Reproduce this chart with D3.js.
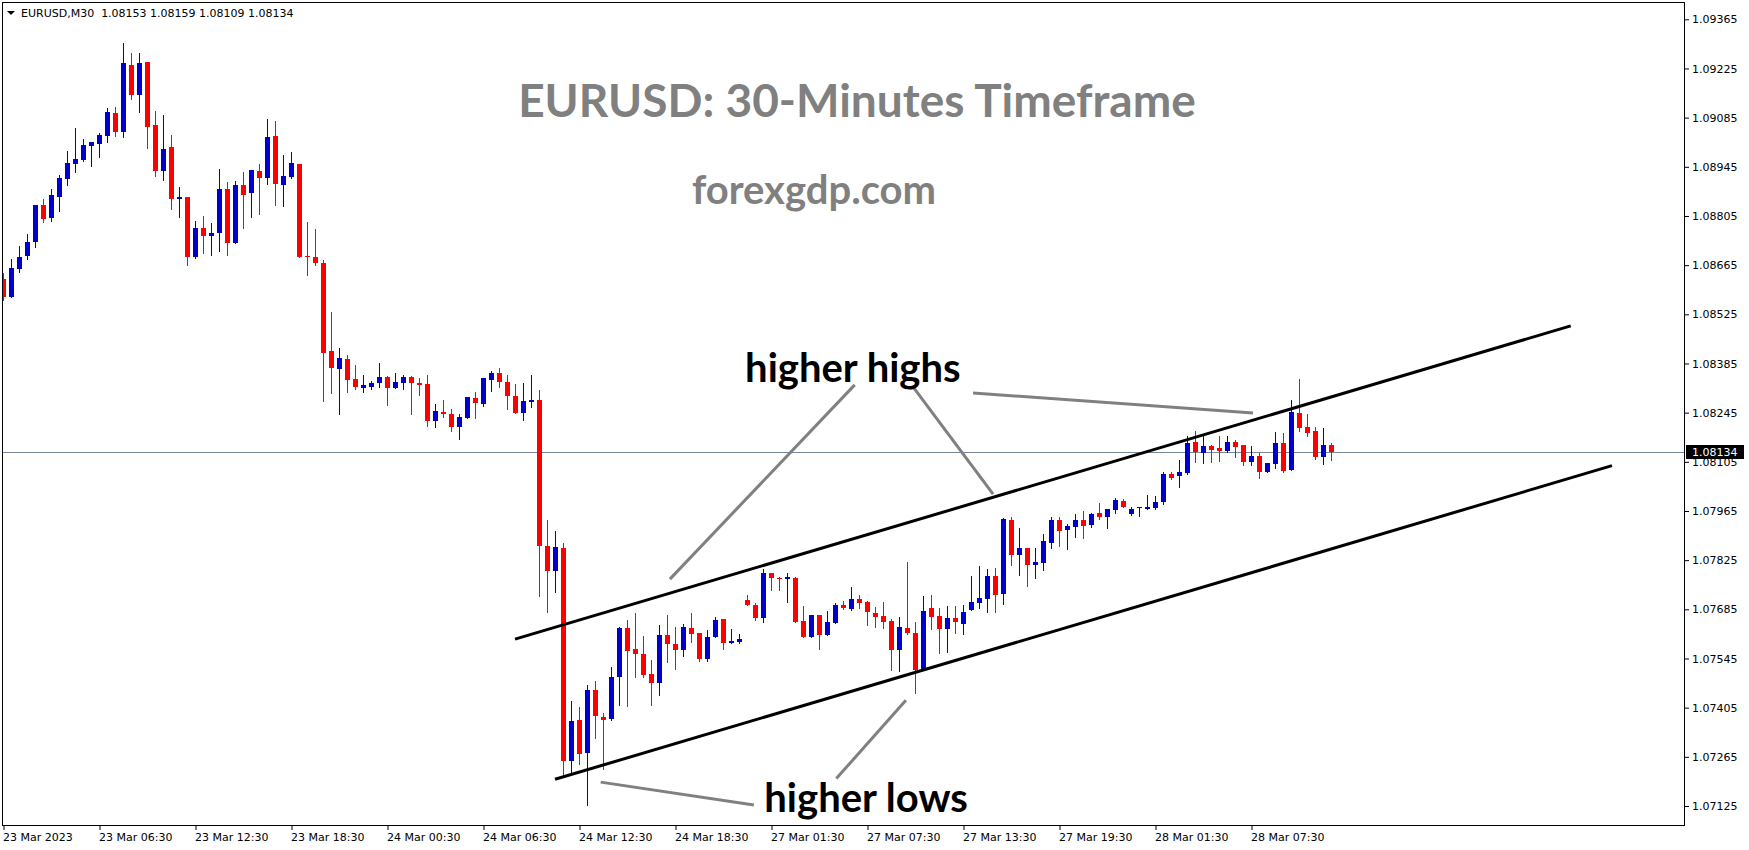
<!DOCTYPE html>
<html><head><meta charset="utf-8">
<script src="https://cdn.jsdelivr.net/npm/d3@7"></script>
<style>
html,body{margin:0;padding:0;background:#fff;overflow:hidden;}
svg{display:block;}
</style>
</head><body>
<svg id="chart" width="1749" height="850"></svg>
<script>
// ---------------- DATA ----------------
const symbolInfo = "EURUSD,M30  1.08153 1.08159 1.08109 1.08134";
const titleText = "EURUSD: 30-Minutes Timeframe";
const siteText = "forexgdp.com";

const opens = [
1.08625,1.08575,1.08655,1.08692,1.08732,1.08836,1.08800,1.08860,1.08911,1.08954,
1.08965,1.09005,1.09011,1.09033,1.09098,1.09045,1.09235,1.09150,1.09243,1.09064,
1.08934,1.09001,1.08854,1.08859,1.08689,1.08771,1.08749,1.08757,1.08882,1.08729,
1.08893,1.08869,1.08933,1.08912,1.09033,1.08894,1.08917,1.08953,1.08692,1.08688,
1.08671,1.08421,1.08368,1.08398,1.08341,1.08314,1.08319,1.08328,1.08347,1.08316,
1.08328,1.08347,1.08330,1.08327,1.08220,1.08247,1.08241,1.08205,1.08231,1.08287,
1.08271,1.08339,1.08358,1.08332,1.08293,1.08245,1.08276,1.08281,1.07865,1.07795,
1.07860,1.07254,1.07370,1.07277,1.07455,1.07379,1.07374,1.07493,1.07632,1.07572,
1.07558,1.07501,1.07474,1.07612,1.07585,1.07568,1.07632,1.07618,1.07544,1.07605,
1.07658,1.07589,1.07592,1.07712,1.07698,1.07659,1.07789,1.07775,1.07770,1.07775,
1.07652,1.07605,1.07669,1.07613,1.07647,1.07698,1.07687,1.07715,1.07706,1.07675,
1.07666,1.07652,1.07570,1.07632,1.07618,1.07513,1.07689,1.07666,1.07630,1.07660,
1.07644,1.07684,1.07704,1.07715,1.07780,1.07730,1.07939,1.07841,1.07860,1.07812,
1.07818,1.07875,1.07939,1.07912,1.07920,1.07939,1.07926,1.07959,1.07948,1.07968,
1.07993,1.07957,1.07973,1.07971,1.07974,1.07991,1.08070,1.08065,1.08074,1.08161,
1.08131,1.08150,1.08144,1.08136,1.08161,1.08152,1.08105,1.08121,1.08077,1.08099,
1.08158,1.08082,1.08244,1.08204,1.08192,1.08119,1.08153];

const highs = [
1.08643,1.08682,1.08719,1.08753,1.08836,1.08853,1.08882,1.08921,1.08990,1.09055,
1.09024,1.09015,1.09041,1.09112,1.09115,1.09297,1.09269,1.09269,1.09243,1.09104,
1.09092,1.09035,1.08887,1.08859,1.08790,1.08805,1.08785,1.08938,1.08902,1.08905,
1.08930,1.08936,1.08953,1.09081,1.09076,1.08979,1.08987,1.08953,1.08788,1.08768,
1.08680,1.08532,1.08429,1.08409,1.08381,1.08353,1.08335,1.08387,1.08350,1.08358,
1.08353,1.08350,1.08344,1.08353,1.08270,1.08281,1.08255,1.08241,1.08290,1.08304,
1.08344,1.08364,1.08372,1.08352,1.08327,1.08330,1.08352,1.08310,1.07939,1.07908,
1.07874,1.07424,1.07407,1.07470,1.07481,1.07390,1.07521,1.07635,1.07655,1.07675,
1.07610,1.07541,1.07641,1.07669,1.07635,1.07644,1.07675,1.07618,1.07626,1.07663,
1.07658,1.07629,1.07615,1.07726,1.07703,1.07800,1.07789,1.07777,1.07789,1.07777,
1.07695,1.07669,1.07669,1.07681,1.07703,1.07709,1.07749,1.07726,1.07709,1.07692,
1.07706,1.07657,1.07663,1.07820,1.07649,1.07723,1.07726,1.07689,1.07694,1.07694,
1.07697,1.07780,1.07808,1.07800,1.07803,1.07945,1.07948,1.07916,1.07860,1.07860,
1.07899,1.07948,1.07948,1.07928,1.07956,1.07965,1.07959,1.07988,1.07970,1.08002,
1.07999,1.07976,1.07976,1.08010,1.08007,1.08076,1.08076,1.08110,1.08178,1.08192,
1.08178,1.08152,1.08178,1.08178,1.08167,1.08152,1.08150,1.08130,1.08101,1.08189,
1.08187,1.08281,1.08340,1.08241,1.08204,1.08201,1.08159];

const lows = [
1.08567,1.08575,1.08646,1.08683,1.08717,1.08789,1.08791,1.08820,1.08894,1.08931,
1.08962,1.08948,1.08974,1.09016,1.09033,1.09031,1.09139,1.09102,1.08999,1.08920,
1.08908,1.08826,1.08803,1.08666,1.08686,1.08700,1.08695,1.08706,1.08695,1.08729,
1.08772,1.08803,1.08812,1.08897,1.08835,1.08832,1.08912,1.08689,1.08638,1.08664,
1.08279,1.08302,1.08240,1.08305,1.08311,1.08305,1.08311,1.08319,1.08268,1.08314,
1.08311,1.08242,1.08294,1.08208,1.08203,1.08234,1.08194,1.08171,1.08231,1.08231,
1.08265,1.08308,1.08319,1.08254,1.08245,1.08225,1.08262,1.07724,1.07676,1.07735,
1.07212,1.07220,1.07246,1.07129,1.07320,1.07229,1.07371,1.07414,1.07411,1.07493,
1.07491,1.07414,1.07442,1.07536,1.07514,1.07553,1.07593,1.07539,1.07539,1.07605,
1.07573,1.07588,1.07588,1.07696,1.07656,1.07650,1.07741,1.07741,1.07707,1.07650,
1.07607,1.07605,1.07573,1.07613,1.07645,1.07686,1.07682,1.07690,1.07639,1.07636,
1.07633,1.07513,1.07510,1.07616,1.07448,1.07513,1.07630,1.07562,1.07564,1.07618,
1.07616,1.07684,1.07690,1.07678,1.07678,1.07701,1.07812,1.07784,1.07752,1.07775,
1.07798,1.07860,1.07866,1.07858,1.07892,1.07889,1.07920,1.07943,1.07917,1.07960,
1.07977,1.07954,1.07951,1.07971,1.07971,1.07985,1.08057,1.08034,1.08071,1.08105,
1.08102,1.08105,1.08108,1.08133,1.08119,1.08096,1.08096,1.08059,1.08077,1.08088,
1.08077,1.08082,1.08193,1.08179,1.08114,1.08099,1.08109];

const closes = [
1.08575,1.08657,1.08688,1.08731,1.08836,1.08797,1.08864,1.08913,1.08956,1.08967,
1.09007,1.09015,1.09035,1.09101,1.09045,1.09240,1.09150,1.09240,1.09059,1.08934,
1.08995,1.08854,1.08859,1.08689,1.08771,1.08749,1.08756,1.08882,1.08729,1.08893,
1.08866,1.08936,1.08912,1.09030,1.08897,1.08919,1.08956,1.08689,1.08687,1.08670,
1.08416,1.08371,1.08401,1.08339,1.08319,1.08324,1.08330,1.08347,1.08316,1.08333,
1.08347,1.08328,1.08325,1.08220,1.08250,1.08242,1.08205,1.08233,1.08290,1.08273,
1.08344,1.08358,1.08333,1.08291,1.08245,1.08278,1.08281,1.07864,1.07795,1.07863,
1.07254,1.07367,1.07274,1.07455,1.07380,1.07371,1.07492,1.07632,1.07567,1.07559,
1.07499,1.07476,1.07612,1.07585,1.07570,1.07635,1.07616,1.07544,1.07607,1.07655,
1.07588,1.07595,1.07601,1.07696,1.07659,1.07789,1.07773,1.07770,1.07777,1.07650,
1.07607,1.07669,1.07613,1.07649,1.07698,1.07689,1.07715,1.07704,1.07676,1.07664,
1.07650,1.07570,1.07635,1.07618,1.07513,1.07680,1.07664,1.07630,1.07660,1.07650,
1.07677,1.07706,1.07717,1.07780,1.07727,1.07942,1.07841,1.07860,1.07812,1.07820,
1.07879,1.07939,1.07909,1.07922,1.07939,1.07923,1.07956,1.07949,1.07970,1.07996,
1.07977,1.07970,1.07976,1.07976,1.07990,1.08070,1.08059,1.08076,1.08158,1.08133,
1.08150,1.08139,1.08136,1.08161,1.08148,1.08105,1.08121,1.08077,1.08101,1.08158,
1.08079,1.08247,1.08202,1.08188,1.08119,1.08152,1.08134];

const yTicks = [1.07125,1.07265,1.07405,1.07545,1.07685,1.07825,1.07965,1.08105,
  1.08245,1.08385,1.08525,1.08665,1.08805,1.08945,1.09085,1.09225,1.09365];

const xTickIndex = [0,12,24,36,48,60,72,84,96,108,120,132,144,156];
const xTickLabels = ["23 Mar 2023","23 Mar 06:30","23 Mar 12:30","23 Mar 18:30",
  "24 Mar 00:30","24 Mar 06:30","24 Mar 12:30","24 Mar 18:30","27 Mar 01:30",
  "27 Mar 07:30","27 Mar 13:30","27 Mar 19:30","28 Mar 01:30","28 Mar 07:30"];

// channel lines [bar index, price]
const upperChannel = [[63.94,1.07600],[195.9,1.08492]];
const lowerChannel = [[68.94,1.07201],[201.06,1.08094]];
// annotation pointer lines [bar index, price]
const highsPointers = [
  [[106.4,1.08324],[83.3,1.07771]],
  [[113.6,1.08321],[123.7,1.08013]],
  [[121.2,1.08301],[156.2,1.08244]]
];
const lowsPointers = [
  [[104.1,1.07203],[112.8,1.07426]],
  [[74.65,1.07193],[93.8,1.07128]]
];
const highsLabel = {text:"higher highs", i:92.7, p:1.08333};
const lowsLabel = {text:"higher lows", i:95.1, p:1.07108};

// ---------------- CHART ----------------
const frame = {left:2.5, top:2.5, right:1684.5, bottom:825.5};
const N = opens.length;
const x = d3.scaleLinear().domain([0, N-1]).range([3.5, 3.5 + 8*(N-1)]);
const y = d3.scaleLinear().domain([1.07125, 1.09365]).range([806, 19.3]);

const BULL = "#0000cd", BEAR = "#ff0000";
const svg = d3.select("#chart");
svg.append("rect").attr("width",1749).attr("height",850).attr("fill","#fff");

svg.append("defs").append("clipPath").attr("id","plotClip")
  .append("rect").attr("x",frame.left+0.5).attr("y",frame.top+0.5)
  .attr("width",frame.right-frame.left-1).attr("height",frame.bottom-frame.top-1);

const plot = svg.append("g").attr("clip-path","url(#plotClip)");

// title texts
plot.append("text").attr("x",857).attr("y",117).attr("text-anchor","middle")
  .attr("font-family","Lato, 'Open Sans', sans-serif").attr("font-weight","bold")
  .attr("font-size",46).attr("fill","#808080").text(titleText);
plot.append("text").attr("x",814).attr("y",204).attr("text-anchor","middle")
  .attr("font-family","Lato, 'Open Sans', sans-serif").attr("font-weight","bold")
  .attr("font-size",40).attr("fill","#808080").text(siteText);

// current price line
const lastClose = closes[N-1];
const yLast = Math.round(y(lastClose)) + 0.5;
plot.append("line").attr("x1",frame.left).attr("x2",frame.right)
  .attr("y1",yLast).attr("y2",yLast).attr("stroke","#778899").attr("stroke-width",1);

const bars = opens.map((o,i)=>({i, o, h:highs[i], l:lows[i], c:closes[i]}));
const cg = plot.append("g").attr("shape-rendering","crispEdges");
// wicks
cg.selectAll("rect.wick").data(bars).join("rect").attr("class","wick")
  .attr("x", d => x(d.i) - 0.5).attr("width", 1)
  .attr("y", d => Math.round(y(d.h)))
  .attr("height", d => Math.max(1, Math.round(y(d.l)) - Math.round(y(d.h)) + 1))
  .attr("fill", d => d.c > d.o ? BULL : BEAR);
// bodies
cg.selectAll("rect.body").data(bars).join("rect").attr("class","body")
  .attr("x", d => x(d.i) - 2.5).attr("width", 5)
  .attr("y", d => Math.round(y(Math.max(d.o,d.c))))
  .attr("height", d => Math.max(1, Math.round(y(Math.min(d.o,d.c))) - Math.round(y(Math.max(d.o,d.c)))))
  .attr("fill", d => d.c > d.o ? BULL : BEAR);

// channel lines
const line = d3.line().x(d => x(d[0])).y(d => y(d[1]));
[upperChannel, lowerChannel].forEach(seg => {
  plot.append("path").attr("d", line(seg)).attr("fill","none")
    .attr("stroke","#000").attr("stroke-width",3);
});
// pointer lines
[...highsPointers, ...lowsPointers].forEach(seg => {
  plot.append("path").attr("d", line(seg)).attr("fill","none")
    .attr("stroke","#808080").attr("stroke-width",3);
});
// annotation labels
[highsLabel, lowsLabel].forEach(lb => {
  plot.append("text").attr("x", x(lb.i)).attr("y", y(lb.p))
    .attr("font-family","Lato, 'Open Sans', sans-serif").attr("font-weight","bold")
    .attr("font-size",40).attr("fill","#000").text(lb.text);
});

// frame
svg.append("rect").attr("x",frame.left).attr("y",frame.top)
  .attr("width",frame.right-frame.left).attr("height",frame.bottom-frame.top)
  .attr("fill","none").attr("stroke","#000").attr("stroke-width",1)
  .attr("shape-rendering","crispEdges");

// y axis
const yAxis = d3.axisRight(y).tickValues(yTicks).tickFormat(d3.format(".5f"))
  .tickSize(4).tickPadding(3);
const gy = svg.append("g").attr("transform",`translate(${frame.right+0.5},0)`).call(yAxis);
gy.select(".domain").remove();
gy.attr("font-family","DejaVu Sans, sans-serif").attr("font-size",11);
gy.selectAll("text").attr("fill","#000");
gy.selectAll("line").attr("stroke","#000");

// x axis
const xAxis = d3.axisBottom(x).tickValues(xTickIndex)
  .tickFormat((d,i) => xTickLabels[i]).tickSize(4).tickPadding(3);
const gx = svg.append("g").attr("transform",`translate(0,${frame.bottom+0.5})`).call(xAxis);
gx.select(".domain").remove();
gx.attr("font-family","DejaVu Sans, sans-serif").attr("font-size",11);
gx.selectAll("text").attr("text-anchor","start").attr("x",-1).attr("fill","#000");
gx.selectAll("line").attr("stroke","#000");

// current price tag
svg.append("rect").attr("x",frame.right+1.5).attr("y",yLast-7.5)
  .attr("width",58).attr("height",14).attr("fill","#000");
svg.append("text").attr("x",frame.right+7.5).attr("y",yLast).attr("dy","0.36em")
  .attr("font-family","DejaVu Sans, sans-serif").attr("font-size",11)
  .attr("fill","#fff").text(d3.format(".5f")(lastClose));

// header
svg.append("path").attr("d", d3.line()([[7,11],[15,11],[11,15]]) + "Z").attr("fill","#000");
svg.append("text").attr("x",21).attr("y",17)
  .attr("font-family","DejaVu Sans, sans-serif").attr("font-size",11)
  .attr("fill","#000").attr("xml:space","preserve").style("white-space","pre").text(symbolInfo);
</script>
</body></html>
